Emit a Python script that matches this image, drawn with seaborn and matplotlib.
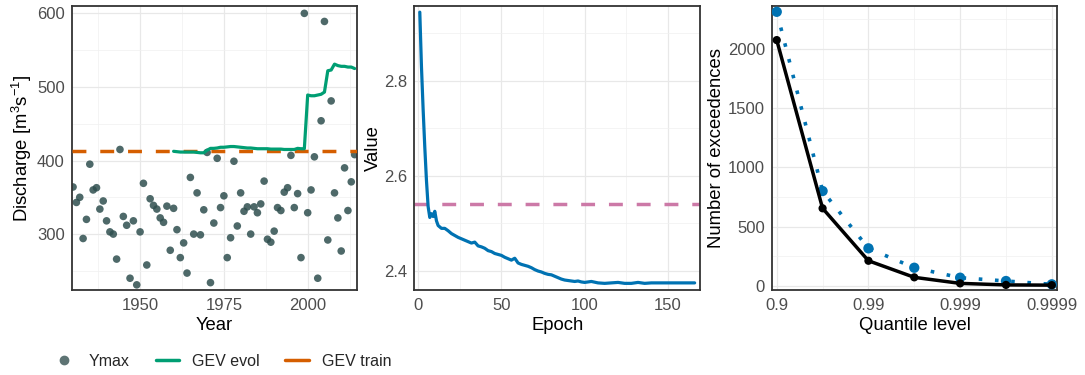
import numpy as np
import pandas as pd
import matplotlib
matplotlib.use("Agg")
import matplotlib.pyplot as plt
from matplotlib.lines import Line2D
from matplotlib.ticker import MultipleLocator, FixedLocator
import seaborn as sns

# ---- panel 1: annual maxima and GEV quantile ----
years = list(range(1930, 2015))
ymax = [364, 343, 350, 294, 320, 395, 360, 363, 334, 345,
        318, 303, 300, 266, 415, 324, 312, 240, 318, 231,
        303, 369, 258, 348, 339, 334, 322, 316, 338, 278,
        335, 306, 268, 288, 247, 377, 300, 356, 299, 333,
        411, 234, 315, 403, 336, 352, 268, 295, 399, 311,
        356, 331, 337, 300, 337, 329, 341, 372, 293, 289,
        304, 336, 332, 357, 363, 407, 336, 355, 268, 600,
        329, 360, 405, 240, 454, 589, 292, 481, 356, 322,
        277, 390, 332, 371, 408]

evol_years = list(range(1960, 2015))
gev_evol = [412.5, 412, 411.5, 411.5, 411.5, 411.5, 411.5, 411, 410.5, 410.5,
            414, 416.5, 416.5, 417, 418, 418, 418.5, 419, 419, 418.5,
            418, 417.5, 417, 417, 416.5, 416, 416, 416, 416, 415.5,
            415.5, 415.5, 415.5, 415, 415, 415, 415, 416.5, 416, 416,
            489, 488, 488, 489, 490, 493, 522, 523, 531, 529,
            528, 528, 527, 527, 525]
gev_train = 413.5

# ---- panel 2: training loss ----
epochs = [1, 2, 3, 4, 5, 6, 7, 8, 9, 10, 11, 12, 14, 16, 18, 20, 22, 24, 26, 28,
          30, 32, 34, 36, 38, 40, 42, 44, 46, 48, 50, 52, 54, 56, 58, 60, 62, 64,
          66, 68, 70, 72, 74, 76, 78, 80, 82, 84, 86, 88, 90, 92, 94, 96, 98, 100,
          104, 108, 112, 116, 120, 124, 128, 132, 136, 140, 145, 150, 155, 160, 166]
loss = [2.945, 2.83, 2.74, 2.66, 2.59, 2.535, 2.512, 2.52, 2.514, 2.525, 2.505, 2.495,
        2.489, 2.489, 2.484, 2.478, 2.474, 2.470, 2.467, 2.464, 2.461, 2.458, 2.460,
        2.452, 2.450, 2.447, 2.442, 2.440, 2.436, 2.434, 2.432, 2.428, 2.425, 2.422,
        2.426, 2.416, 2.413, 2.411, 2.409, 2.406, 2.402, 2.399, 2.397, 2.394, 2.392,
        2.391, 2.388, 2.385, 2.382, 2.380, 2.379, 2.378, 2.377, 2.378, 2.376, 2.375,
        2.377, 2.374, 2.373, 2.374, 2.375, 2.373, 2.373, 2.375, 2.373, 2.374, 2.374,
        2.374, 2.374, 2.374, 2.374]
loss_ref = 2.54

# ---- panel 3: exceedances ----
quantile_levels = [0.9, 0.968377, 0.99, 0.996838, 0.999, 0.999684, 0.9999]
exc_observed = [2075, 654, 211, 71, 20, 7, 5]
exc_expected = [2314, 800, 316, 152, 68, 40, 12]
qtick_levels = [0.9, 0.99, 0.999, 0.9999]
qtick_labels = ["0.9", "0.99", "0.999", "0.9999"]

sns.set_theme(style="white")
plt.rcParams["font.family"] = ["Liberation Sans", "DejaVu Sans"]
plt.rcParams["mathtext.fontset"] = "custom"
plt.rcParams["mathtext.rm"] = "Liberation Sans"
plt.rcParams["mathtext.it"] = "Liberation Sans"

GREEN = "#009E73"
ORANGE = "#D55E00"
BLUE = "#0072B2"
PINK = "#CC79A7"
SLATE = "#2F4F4F"

W, H = 1085, 375
fig = plt.figure(figsize=(W / 100, H / 100), dpi=100)


def box(l, r, t, b):
    return [l / W, 1 - b / H, (r - l) / W, (b - t) / H]


ax1 = fig.add_axes(box(71.7, 357.3, 6, 290))
ax2 = fig.add_axes(box(414.3, 700.3, 6, 290))
ax3 = fig.add_axes(box(771.7, 1057.3, 6, 290))


def style(ax):
    ax.set_axisbelow(True)
    ax.grid(which="major", color="#E8E8E8", linewidth=0.9)
    ax.grid(which="minor", color="#F0F0F0", linewidth=0.5)
    for s in ax.spines.values():
        s.set_color("#333333")
        s.set_linewidth(1.3)
    ax.tick_params(which="both", length=0, labelsize=12, colors="#4D4D4D")
    ax.tick_params(axis="x", pad=6)
    ax.tick_params(axis="y", pad=5)
    ax.xaxis.label.set_size(13.3)
    ax.yaxis.label.set_size(13.3)
    ax.xaxis.label.set_color("black")
    ax.yaxis.label.set_color("black")
    ax.xaxis.labelpad = 3
    ax.yaxis.labelpad = 2


# panel 1
df1 = pd.DataFrame({"year": years, "ymax": ymax})
df_evol = pd.DataFrame({"year": evol_years, "q": gev_evol})
sns.scatterplot(data=df1, x="year", y="ymax", ax=ax1, color=SLATE, alpha=0.85,
                s=30, edgecolor="none", zorder=2)
ax1.axhline(gev_train, color=ORANGE, linewidth=2.5, dashes=(4, 4), zorder=3)
sns.lineplot(data=df_evol, x="year", y="q", ax=ax1, color=GREEN, linewidth=2.3, zorder=4)
ax1.set_xlim(1929.6, 2014.8)
ax1.set_ylim(224, 610)
ax1.xaxis.set_major_locator(FixedLocator([1950, 1975, 2000]))
ax1.xaxis.set_minor_locator(FixedLocator([1937.5, 1962.5, 1987.5, 2012.5]))
ax1.yaxis.set_major_locator(MultipleLocator(100))
ax1.yaxis.set_minor_locator(MultipleLocator(50))
ax1.set_xlabel("Year")
ax1.set_ylabel("Discharge [m$^3$s$^{-1}$]")
style(ax1)

# panel 2
df2 = pd.DataFrame({"epoch": epochs, "loss": loss})
sns.lineplot(data=df2, x="epoch", y="loss", ax=ax2, color=BLUE, linewidth=2.3, zorder=3)
ax2.axhline(loss_ref, color=PINK, linewidth=2.5, dashes=(4, 4), zorder=2)
ax2.set_xlim(-2.3, 169.4)
ax2.set_ylim(2.359, 2.958)
ax2.xaxis.set_major_locator(MultipleLocator(50))
ax2.xaxis.set_minor_locator(MultipleLocator(25))
ax2.yaxis.set_major_locator(FixedLocator([2.4, 2.6, 2.8]))
ax2.yaxis.set_minor_locator(FixedLocator([2.5, 2.7, 2.9]))
ax2.set_xlabel("Epoch")
ax2.set_ylabel("Value")
style(ax2)

# panel 3
qx = -np.log10(1 - np.array(quantile_levels))
df3 = pd.DataFrame({"qx": qx, "obs": exc_observed, "exp": exc_expected})
sns.lineplot(data=df3, x="qx", y="exp", ax=ax3, color=BLUE, linewidth=2.6, zorder=2)
ax3.lines[-1].set_dashes((1, 3.5))
sns.scatterplot(data=df3, x="qx", y="exp", ax=ax3, color=BLUE, s=55,
                edgecolor="none", zorder=3)
sns.lineplot(data=df3, x="qx", y="obs", ax=ax3, color="black", linewidth=2.5, zorder=4)
sns.scatterplot(data=df3, x="qx", y="obs", ax=ax3, color="black", s=35,
                edgecolor="none", zorder=5)
ax3.set_xlim(0.945, 4.06)
ax3.set_ylim(-36, 2363)
qt = -np.log10(1 - np.array(qtick_levels))
ax3.set_xticks(qt)
ax3.set_xticklabels(qtick_labels)
ax3.xaxis.set_minor_locator(FixedLocator([1.5, 2.5, 3.5]))
ax3.yaxis.set_major_locator(MultipleLocator(500))
ax3.yaxis.set_minor_locator(MultipleLocator(250))
ax3.set_xlabel("Quantile level")
ax3.set_ylabel("Number of exceedences")
style(ax3)

handles = [
    Line2D([], [], marker="o", linestyle="none", color="#5E7474", markersize=6),
    Line2D([], [], color=GREEN, linewidth=2.5),
    Line2D([], [], color=ORANGE, linewidth=2.5),
]
fig.legend(handles, ["Ymax", "GEV evol", "GEV train"], loc="center",
           bbox_to_anchor=(222 / W, 1 - 361 / H), ncol=3, frameon=False,
           fontsize=11.5, handlelength=1.5, handletextpad=0.8, columnspacing=1.6)

fig.savefig("out.png", dpi=100)
